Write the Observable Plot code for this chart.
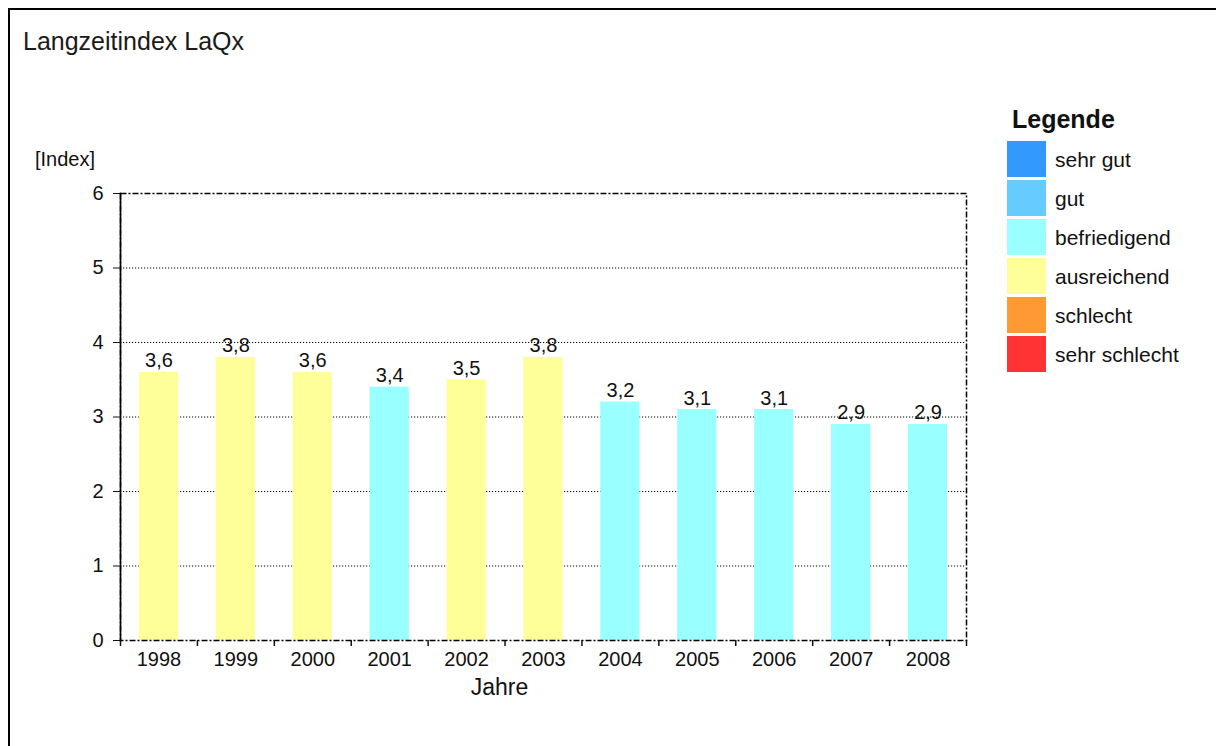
<!DOCTYPE html>
<html>
<head>
<meta charset="utf-8">
<script src="https://cdn.jsdelivr.net/npm/d3@7"></script>
<script src="https://cdn.jsdelivr.net/npm/@observablehq/plot@0.6"></script>
<style>
  html, body { margin: 0; padding: 0; background: #fff; }
  body { width: 1216px; height: 746px; overflow: hidden; position: relative; font-family: "Liberation Sans", Arial, sans-serif; }
  #frame { position: absolute; left: 8px; top: 8px; width: 1220px; height: 760px; border: 2px solid #000; box-sizing: border-box; }
  #title { position: absolute; left: 23px; top: 29px; font-size: 25px; line-height: 1; color: #1a1a1a; white-space: nowrap; }
  #ylab { position: absolute; left: 35px; top: 149px; font-size: 20px; line-height: 1; color: #111; }
  #chart { position: absolute; left: 0; top: 0; }
  #legend { position: absolute; left: 0; top: 0; }
  #legend .head { position: absolute; left: 1012px; top: 107px; font-size: 25px; line-height: 1; font-weight: bold; color: #111; white-space: nowrap; }
  #legend .sw { position: absolute; left: 1007px; width: 39px; height: 36px; }
  #legend .lab { position: absolute; left: 1055px; font-size: 21px; line-height: 1; color: #111; white-space: nowrap; }
</style>
</head>
<body>
<div id="frame"></div>
<div id="title">Langzeitindex LaQx</div>
<div id="ylab">[Index]</div>
<div id="chart"></div>
<div id="legend"></div>
<script>
const years = ["1998","1999","2000","2001","2002","2003","2004","2005","2006","2007","2008"];
const values = [3.6, 3.8, 3.6, 3.4, 3.5, 3.8, 3.2, 3.1, 3.1, 2.9, 2.9];
const ratings = ["ausreichend","ausreichend","ausreichend","befriedigend","ausreichend","ausreichend","befriedigend","befriedigend","befriedigend","befriedigend","befriedigend"];
const classes = ["sehr gut","gut","befriedigend","ausreichend","schlecht","sehr schlecht"];
const classColors = ["#3399ff","#66ccff","#99ffff","#ffff99","#ff9933","#ff3333"];
const yTicks = [0,1,2,3,4,5,6];
const gridTicks = [1,2,3,4,5];

const data = years.map((y, i) => ({year: y, value: values[i], rating: ratings[i]}));
const fmt = v => v.toFixed(1).replace(".", ",");

const W = 1216, H = 746;
const mL = 120, mR = 250, mT = 193, mB = 106;
const half = (W - mL - mR) / years.length / 2;

const chart = Plot.plot({
  width: W,
  height: H,
  marginLeft: mL,
  marginRight: mR,
  marginTop: mT,
  marginBottom: mB,
  style: {fontFamily: "'Liberation Sans', Arial, sans-serif", color: "#111", background: "transparent"},
  x: {domain: years, paddingInner: 0.49, paddingOuter: 0.245, align: 0.5, round: false},
  y: {domain: [0, 6]},
  color: {domain: classes, range: classColors},
  marks: [
    Plot.ruleY(gridTicks, {stroke: "#000", strokeWidth: 1, strokeDasharray: "1.2,1.8"}),
    Plot.barY(data, {x: "year", y: "value", fill: "rating"}),
    Plot.frame({stroke: "#000", strokeWidth: 1.5, strokeDasharray: "6,2,2,2"}),
    Plot.frame({anchor: "left", stroke: "#000", strokeWidth: 1.6}),
    Plot.axisY({ticks: yTicks, tickSize: 7, tickPadding: 10, fontSize: 20, label: null, tickFormat: d => String(d)}),
    Plot.axisX({tickSize: 0, tickPadding: 11, fontSize: 20, label: null}),
    Plot.axisX({tickSize: 6, dx: -half, tickFormat: () => "", label: null, strokeWidth: 1.5}),
    Plot.axisX([years[years.length - 1]], {tickSize: 6, dx: half, tickFormat: () => "", label: null, strokeWidth: 1.5}),
    Plot.text(data, {x: "year", y: "value", text: d => fmt(d.value), lineAnchor: "bottom", dy: -5, fontSize: 20, fill: "#111"}),
    Plot.text(["Jahre"], {frameAnchor: "bottom", lineAnchor: "middle", dx: -44, dy: 47, fontSize: 23, fill: "#111"})
  ]
});
document.getElementById("chart").appendChild(chart);

const legend = document.getElementById("legend");
const head = document.createElement("div");
head.className = "head";
head.textContent = "Legende";
legend.appendChild(head);
classes.forEach((c, i) => {
  const sw = document.createElement("div");
  sw.className = "sw";
  sw.style.top = (141 + i * 39) + "px";
  sw.style.background = classColors[i];
  const lab = document.createElement("div");
  lab.className = "lab";
  lab.style.top = (149 + i * 39) + "px";
  lab.textContent = c;
  legend.appendChild(sw);
  legend.appendChild(lab);
});
</script>
</body>
</html>
